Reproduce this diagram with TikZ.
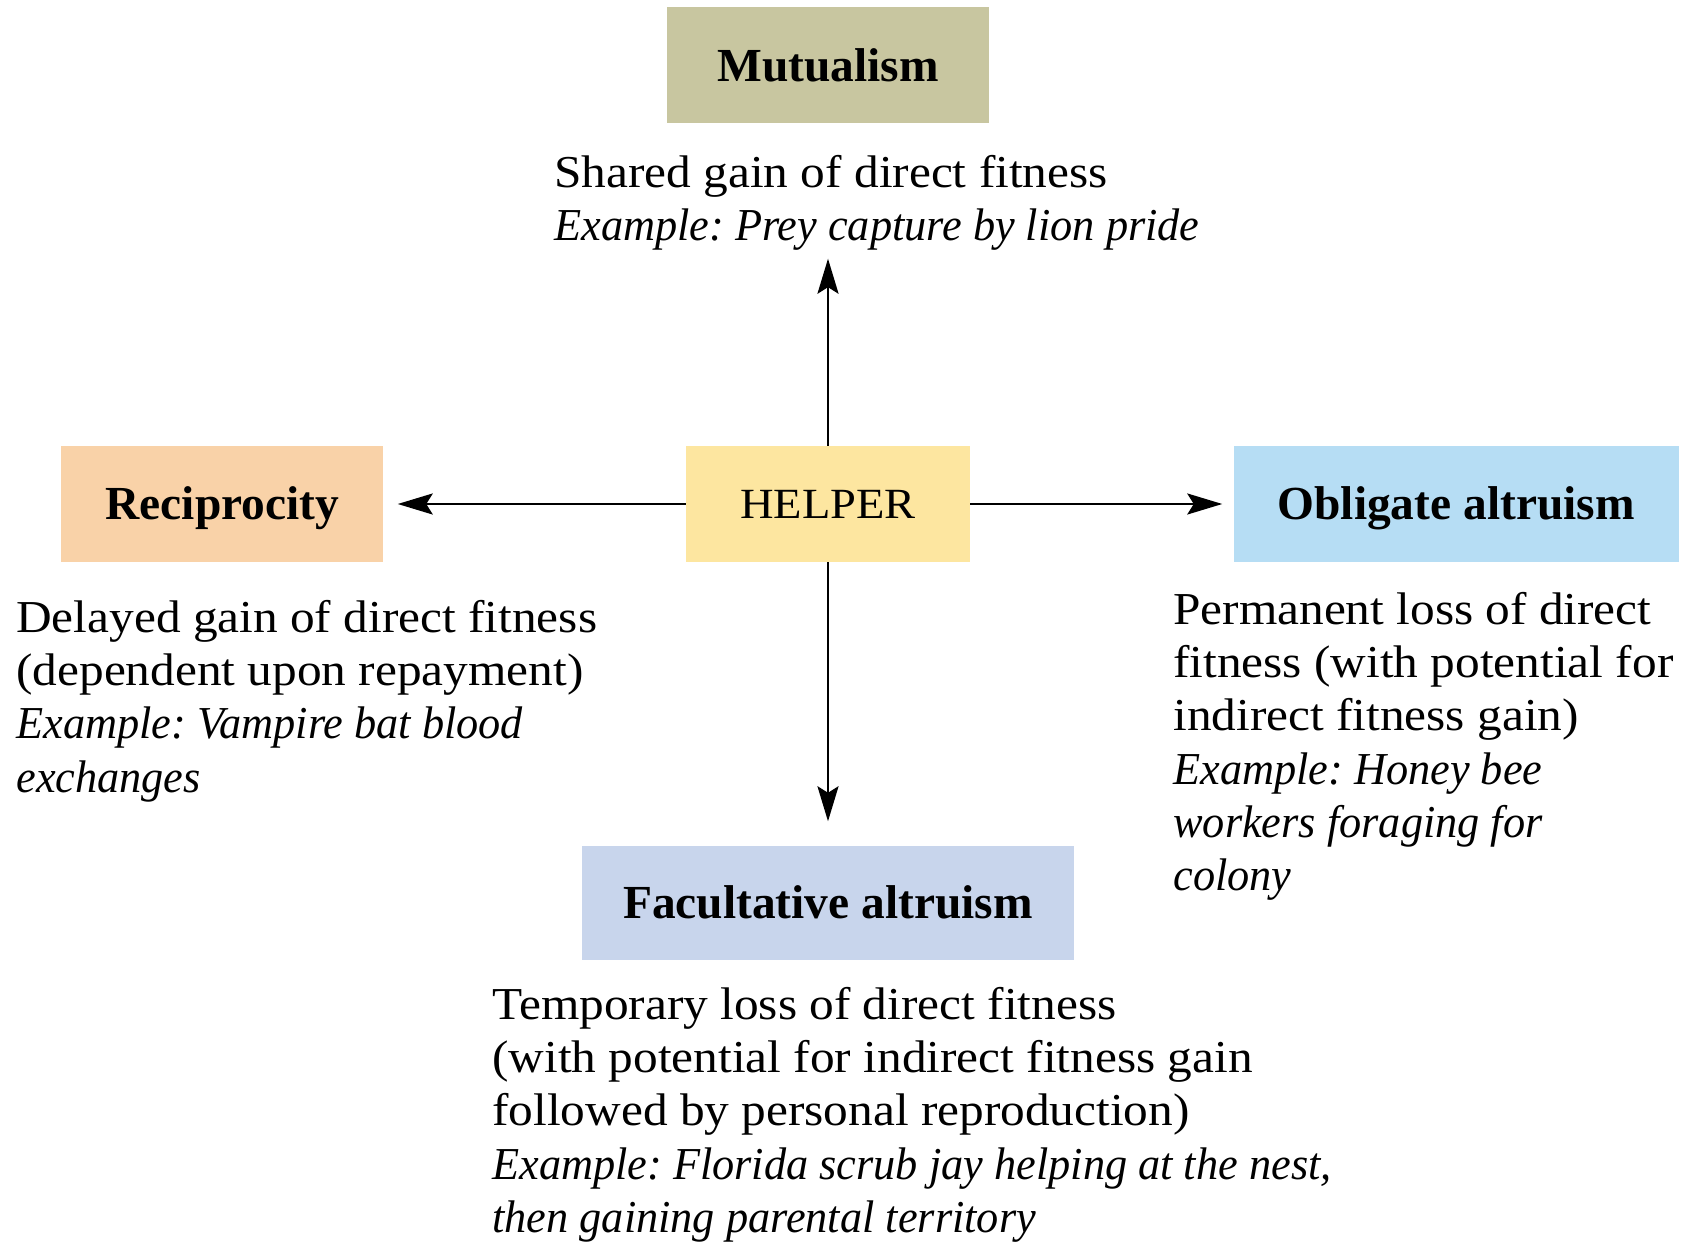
\documentclass[tikz,border=0pt]{standalone}
\usepackage{fontspec}
\setmainfont{Liberation Serif}[FakeStretch=1.08,
  ItalicFeatures={FakeStretch=0.97},
  BoldFeatures={FakeStretch=1.0}]
\usetikzlibrary{arrows.meta,positioning}
\frenchspacing

\definecolor{mutcol}{RGB}{200,198,160}
\definecolor{reccol}{RGB}{249,210,168}
\definecolor{helpcol}{RGB}{253,230,160}
\definecolor{oblcol}{RGB}{182,221,244}
\definecolor{faccol}{RGB}{200,213,236}

\begin{document}
\begin{tikzpicture}[
  x=0.02cm, y=-0.02cm,
  >={Stealth[length=0.7cm,width=0.42cm,inset=0.13cm]},
  every node/.style={inner sep=0pt, text=black},
  box/.style={minimum height=2.32cm, text height=17.8pt, text depth=0pt,
    font=\fontsize{27}{30}\selectfont\bfseries},
  note/.style={anchor=north west, align=left, font=\fontsize{26}{30.3}\selectfont},
  link/.style={->, line width=1.5pt},
  ]
  \useasboundingbox (0,0) rectangle (1694,1243);

  \node[box, fill=helpcol, minimum width=5.68cm, text height=16.2pt, font=\fontsize{24.5}{30}\selectfont] (helper) at (828,504) {HELPER};
  \node[box, fill=mutcol, minimum width=6.44cm, above=6.44cm of helper] (mutual) {Mutualism};
  \node[box, fill=reccol, minimum width=6.44cm, left=6.04cm of helper] (recip) {Reciprocity};
  \node[box, fill=oblcol, minimum width=8.9cm, right=5.26cm of helper] (oblig) {Obligate altruism};
  \node[box, fill=faccol, minimum width=9.84cm, minimum height=2.28cm, below=5.66cm of helper] (facult) {Facultative altruism};

  \node[note] (mutext) at (554,155) {Shared gain of direct fitness\\
    \textit{Example: Prey capture by lion pride}};
  \node[note] (rectext) at (16,600) {Delayed gain of direct fitness\\
    (dependent upon repayment)\\
    \textit{Example: Vampire bat blood}\\
    \textit{exchanges}};
  \node[note] (obltext) at (1173,592) {Permanent loss of direct\\
    fitness (with potential for\\
    indirect fitness gain)\\
    \textit{Example: Honey bee}\\
    \textit{workers foraging for}\\
    \textit{colony}};
  \node[note] (factext) at (492,987) {Temporary loss of direct fitness\\
    (with potential for indirect fitness gain\\
    followed by personal reproduction)\\
    \textit{Example: Florida scrub jay helping at the nest,}\\
    \textit{then gaining parental territory}};

  \draw[link, shorten >=2.7cm] (helper) -- (mutual);
  \draw[link, shorten >=0.28cm] (helper) -- (recip);
  \draw[link, shorten >=0.22cm] (helper) -- (oblig);
  \draw[link, shorten >=0.48cm] (helper) -- (facult);

\end{tikzpicture}
\end{document}
